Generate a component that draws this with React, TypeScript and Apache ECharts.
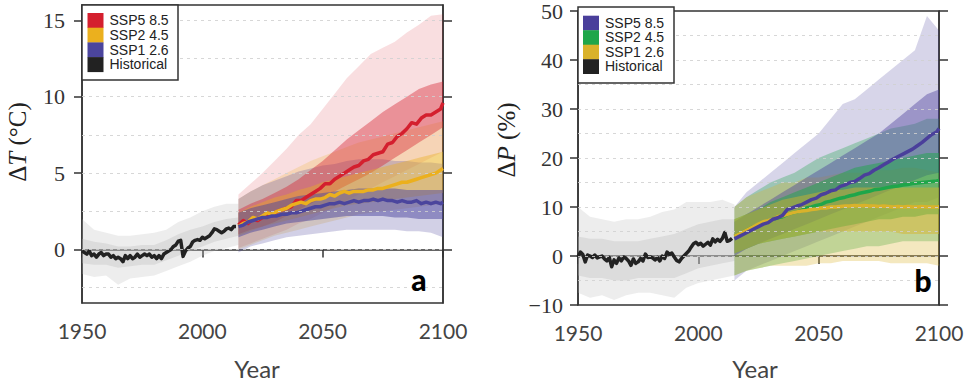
import React, { useEffect, useRef } from "react";
import * as echarts from "echarts";

// ---------- categories / years ----------
const histYears: number[] = Array.from({ length: 65 }, (_, i) => 1950 + i);
const projYears: number[] = [...Array.from({ length: 43 }, (_, i) => 2015 + 2 * i), 2100];
const bandYears: number[] = [2015, 2020, 2025, 2030, 2035, 2040, 2045, 2050, 2055, 2060, 2065, 2070, 2075, 2080, 2085, 2090, 2095, 2100];
const histBandYears: number[] = [1950, 1955, 1960, 1965, 1970, 1975, 1980, 1985, 1990, 1995, 2000, 2005, 2010, 2015];

// ---------- tick labels ----------
const xTicks = [1950, 2000, 2050, 2100];
const tTicks = [0, 5, 10, 15];
const tGrid = [-2.5, 0, 2.5, 5, 7.5, 10, 12.5, 15];
const pTicks = [-10, 0, 10, 20, 30, 40, 50];
const pGrid = [-5, 0, 5, 10, 15, 20, 25, 30, 35, 40, 45];

// ---------- panel a: temperature change (°C) ----------
const histT = [
  -0.1, -0.2, -0.3, -0.1, -0.4, -0.3, -0.5, -0.3, -0.2, -0.4, -0.3, -0.3, -0.5,
  -0.4, -0.6, -0.5, -0.6, -0.8, -0.4, -0.6, -0.4, -0.6, -0.5, -0.3, -0.5, -0.4,
  -0.3, -0.4, -0.3, -0.5, -0.4, -0.6, -0.4, -0.6, -0.3, -0.2, -0.1, 0.0, 0.2,
  0.3, 0.55, 0.6, -0.45, -0.1, 0.1, 0.2, 0.5, 0.6, 0.65, 0.6, 0.8, 0.7,
  0.8, 0.9, 1.1, 1.35, 1.3, 1.2, 1.1, 1.2, 1.35, 1.4, 1.3, 1.5, 1.5,
];
const ssp585T = [
  1.6, 1.9, 1.7, 2.0, 1.9, 2.1, 2.3, 2.2, 2.5, 2.6,
  2.7, 2.8, 3.2, 3.2, 3.4, 3.6, 3.8, 4.0, 4.3, 4.3,
  4.6, 4.8, 5.0, 5.2, 5.4, 5.5, 5.8, 5.9, 6.2, 6.3,
  6.4, 6.9, 7.0, 7.4, 7.6, 7.9, 8.3, 8.2, 8.6, 8.8,
  8.8, 9.0, 9.2, 9.6,
];
const ssp245T = [
  1.5, 1.7, 1.8, 2.1, 2.0, 2.2, 2.4, 2.3, 2.5, 2.6,
  2.7, 2.9, 3.0, 3.1, 3.0, 3.2, 3.3, 3.3, 3.4, 3.6,
  3.5, 3.7, 3.8, 3.7, 3.8, 3.8, 3.8, 3.9, 3.9, 4.0,
  4.0, 4.1, 4.2, 4.3, 4.4, 4.4, 4.5, 4.6, 4.7, 4.8,
  4.9, 5.0, 5.2, 5.3,
];
const ssp126T = [
  1.5, 1.6, 1.8, 1.9, 2.0, 2.1, 2.1, 2.2, 2.2, 2.3,
  2.3, 2.4, 2.4, 2.5, 2.6, 2.7, 2.8, 2.8, 2.9, 3.0,
  3.0, 3.1, 3.0, 3.1, 3.2, 3.1, 3.2, 3.2, 3.3, 3.2,
  3.3, 3.2, 3.2, 3.1, 3.2, 3.1, 3.1, 3.2, 3.0, 3.1,
  3.0, 3.1, 3.0, 3.1,
];
// ensemble envelopes (outer = full spread, inner = dense core)
const histTOutLo = [-1.6, -1.8, -1.7, -2.3, -1.9, -1.8, -1.7, -1.4, -1.1, -0.8, -0.4, -0.1, 0.1, 0.3];
const histTOutHi = [2.0, 1.3, 1.1, 0.9, 0.9, 1.0, 1.1, 1.3, 1.8, 2.1, 2.5, 2.8, 3.0, 3.0];
const histTInLo = [-0.9, -1.0, -1.0, -1.2, -1.1, -1.0, -1.0, -0.7, -0.4, -0.1, 0.2, 0.5, 0.7, 0.9];
const histTInHi = [0.7, 0.5, 0.4, 0.2, 0.2, 0.3, 0.3, 0.6, 1.0, 1.3, 1.5, 1.8, 2.0, 2.1];
const ssp585TOutLo = [0.1, 0.4, 0.7, 1.0, 1.3, 1.7, 2.0, 2.4, 2.8, 3.2, 3.6, 4.0, 4.4, 4.8, 5.2, 5.6, 6.0, 6.4];
const ssp585TOutHi = [3.6, 4.3, 5.0, 5.8, 6.6, 7.5, 8.2, 9.2, 10.2, 11.2, 12.0, 12.8, 13.2, 13.6, 14.2, 14.7, 15.3, 15.4];
const ssp585TInLo = [1.0, 1.3, 1.5, 1.8, 2.2, 2.6, 3.0, 3.4, 3.8, 4.2, 4.6, 5.0, 5.5, 6.0, 6.5, 7.0, 7.5, 8.0];
const ssp585TInHi = [2.6, 3.0, 3.3, 3.7, 4.1, 4.6, 5.2, 5.8, 6.5, 7.2, 7.8, 8.4, 9.0, 9.5, 10.0, 10.5, 10.8, 11.0];
const ssp245TOutLo = [0.0, 0.3, 0.6, 0.9, 1.1, 1.3, 1.5, 1.7, 1.9, 2.1, 2.3, 2.4, 2.5, 2.6, 2.7, 2.8, 2.9, 3.0];
const ssp245TOutHi = [3.3, 3.8, 4.2, 4.6, 5.0, 5.4, 5.8, 6.1, 6.4, 6.7, 7.0, 7.2, 7.4, 7.6, 7.8, 8.0, 8.2, 8.4];
const ssp245TInLo = [0.9, 1.2, 1.5, 1.7, 1.9, 2.1, 2.3, 2.5, 2.7, 2.9, 3.0, 3.1, 3.2, 3.3, 3.4, 3.5, 3.6, 3.7];
const ssp245TInHi = [2.4, 2.8, 3.1, 3.4, 3.6, 3.9, 4.1, 4.4, 4.6, 4.8, 5.0, 5.2, 5.4, 5.6, 5.8, 6.0, 6.2, 6.4];
const ssp126TOutLo = [-0.2, 0.2, 0.4, 0.6, 0.8, 0.9, 1.0, 1.1, 1.2, 1.3, 1.3, 1.3, 1.3, 1.3, 1.2, 1.2, 1.1, 0.8];
const ssp126TOutHi = [3.3, 3.8, 4.2, 4.5, 4.8, 5.1, 5.3, 5.5, 5.6, 5.8, 5.9, 5.9, 5.9, 5.8, 5.8, 5.7, 5.7, 5.6];
const ssp126TInLo = [0.8, 1.1, 1.3, 1.5, 1.7, 1.8, 1.9, 2.0, 2.1, 2.2, 2.2, 2.2, 2.2, 2.1, 2.1, 2.0, 2.0, 2.0];
const ssp126TInHi = [2.4, 2.7, 2.9, 3.1, 3.3, 3.5, 3.6, 3.7, 3.8, 3.9, 4.0, 4.0, 4.0, 4.0, 3.9, 3.9, 3.9, 3.9];

// ---------- panel b: precipitation change (%) ----------
const histP = [
  -0.2, 0.8, 0.3, -1.2, 0.2, 0.0, -0.3, 0.2, -0.4, -0.2, 0.0, -0.6, -1.0,
  -0.3, -2.2, -0.8, -1.5, -0.4, -1.0, -0.2, -0.5, -1.0, -1.9, -0.6, -1.5, -1.2,
  -0.5, -1.0, 0.4, -0.3, -0.2, -0.4, -0.8, -0.3, -1.0, 0.0, -0.5, 0.8, 0.3,
  0.6, -0.2, -0.9, -1.2, -0.5, 0.0, 0.5, 1.0, 1.8, 2.5, 2.8, 2.3, 2.6,
  2.0, 2.4, 2.8, 2.2, 3.5, 2.9, 3.4, 3.0, 3.6, 4.8, 3.0, 3.2, 3.6,
];
const ssp585P = [
  3.5, 4.0, 4.5, 5.0, 5.5, 6.0, 6.5, 6.8, 7.5, 7.8,
  8.3, 9.5, 9.8, 10.2, 10.5, 11.0, 11.5, 11.8, 12.5, 12.8,
  13.3, 13.5, 14.2, 14.5, 15.0, 15.2, 15.8, 16.5, 16.8, 17.5,
  18.0, 18.6, 19.2, 19.8, 20.3, 20.8, 21.3, 21.8, 22.5, 23.2,
  24.0, 24.8, 25.3, 26.0,
];
const ssp245P = [
  4.0, 4.5, 5.0, 5.5, 6.0, 6.3, 6.8, 7.0, 7.5, 7.8,
  8.0, 8.5, 8.8, 9.0, 9.3, 9.8, 10.0, 10.3, 10.5, 11.0,
  11.2, 11.5, 11.8, 12.0, 12.3, 12.5, 12.8, 13.0, 13.2, 13.5,
  13.6, 13.8, 14.0, 14.2, 14.3, 14.5, 14.6, 14.8, 14.9, 15.0,
  15.1, 15.2, 15.3, 15.4,
];
const ssp126P = [
  4.0, 4.5, 5.0, 5.5, 6.0, 6.5, 7.0, 7.2, 7.5, 8.0,
  8.2, 8.5, 8.8, 9.0, 9.2, 9.3, 9.5, 9.6, 9.8, 9.8,
  10.0, 10.0, 10.1, 10.2, 10.2, 10.3, 10.2, 10.3, 10.2, 10.2,
  10.1, 10.2, 10.1, 10.0, 10.1, 10.0, 10.1, 10.0, 10.0, 10.1,
  10.0, 10.0, 10.0, 10.0,
];
const histPOutLo = [-7.5, -8.5, -8.0, -9.0, -8.0, -7.5, -7.5, -8.0, -8.5, -6.5, -5.5, -5.0, -4.5, -4.0];
const histPOutHi = [10.0, 8.0, 7.5, 7.0, 7.5, 7.5, 8.0, 9.0, 9.5, 11.0, 11.0, 11.0, 11.5, 10.5];
const histPInLo = [-4.0, -4.5, -4.5, -5.0, -5.0, -4.5, -4.5, -4.5, -4.5, -3.5, -2.5, -2.0, -1.5, -1.0];
const histPInHi = [4.0, 3.5, 3.5, 3.0, 3.0, 3.0, 3.5, 4.0, 4.5, 5.5, 6.5, 7.0, 7.5, 7.5];
const ssp585POutLo = [-5, -3, -2, -1, 0, 1, 2, 3, 4, 5, 6, 7, 8, 9, 10, 11, 11, 12];
const ssp585POutHi = [10, 13, 15, 17, 19, 21, 23, 25, 28, 31, 32, 34, 36, 38, 40, 42, 49, 46];
const ssp585PInLo = [0, 1.5, 2.5, 3.5, 4.5, 5.5, 6.5, 7.5, 8.5, 9.5, 10.5, 11.5, 12.5, 13.5, 14.5, 15.5, 16.5, 17];
const ssp585PInHi = [7, 8.5, 10, 11.5, 13, 14.5, 16, 17.5, 19, 20.5, 22, 23.5, 25, 27, 29, 31, 33, 34];
const ssp245POutLo = [-4, -3, -2.5, -2, -1.5, -1, -0.5, 0, 0.5, 1, 1.5, 2, 2, 2.5, 3, 3, 3, 3];
const ssp245POutHi = [10, 12, 13.5, 15, 16, 17, 18.5, 20, 21, 22, 23, 24, 25, 26, 26.5, 27, 28, 28];
const ssp245PInLo = [0.5, 1.5, 2.5, 3, 3.5, 4, 4.5, 5, 5.5, 6, 6.5, 7, 7.5, 7.5, 8, 8, 8.5, 8.5];
const ssp245PInHi = [7.5, 8.5, 9.5, 11, 12, 13, 14, 15, 16, 17, 18, 18.5, 19, 19.5, 20, 20.5, 21, 21];
const ssp126POutLo = [-4, -3, -2.5, -2, -2, -2, -2, -1.5, -1.5, -1, -1, -1, -1, -1.5, -1.5, -1.5, -1.5, -2];
const ssp126POutHi = [10, 12, 13, 14, 15, 15, 16, 16, 16.5, 17, 17, 17, 17.5, 17.5, 18, 18, 17.5, 17];
const ssp126PInLo = [0.5, 1.5, 2.5, 3, 3.5, 4, 4.5, 5, 5, 5, 5, 5, 5, 5, 4.5, 4.5, 4.5, 4.5];
const ssp126PInHi = [7.5, 8.5, 9.5, 10.5, 11.5, 12, 12.5, 13, 13.5, 13.5, 14, 14, 14, 14, 14, 14, 14, 14];

// ---------- legend ----------
const legendA = ["SSP5 8.5", "SSP2 4.5", "SSP1 2.6", "Historical"];
const legendB = ["SSP5 8.5", "SSP2 4.5", "SSP1 2.6", "Historical"];

// ---------- styles ----------
const RED = "#d41f2e";
const ORANGE = "#ebb01e";
const BLUE = "#4b459d";
const PURPLE = "#4a3f9b";
const GREEN = "#1fa64a";
const YELLOW = "#d9b22b";
const BLACK = "#222222";
const GRAY = "#b8b8b8";
const colorsA = [RED, ORANGE, BLUE, BLACK];
const colorsB = [PURPLE, GREEN, YELLOW, BLACK];

function rgba(hex: string, a: number) {
  const n = parseInt(hex.slice(1), 16);
  return `rgba(${(n >> 16) & 255},${(n >> 8) & 255},${n & 255},${a})`;
}

function band(xs: number[], lo: number[], hi: number[], color: string, alpha: number, g: number) {
  return {
    type: "custom",
    xAxisIndex: g,
    yAxisIndex: g * 2,
    silent: true,
    data: xs.map((x, i) => [x, lo[i], hi[i]]),
    encode: { x: 0, y: [1, 2] },
    renderItem: (params: any, api: any) => {
      if (params.dataIndex !== 0) return null;
      const top = xs.map((x, i) => api.coord([x, hi[i]]));
      const bot = xs.map((x, i) => api.coord([x, lo[i]])).reverse();
      return {
        type: "polygon",
        shape: { points: top.concat(bot) },
        style: { fill: rgba(color, alpha), stroke: null },
      };
    },
  };
}

function meanLine(xs: number[], ys: number[], color: string, g: number, w = 3.5) {
  return {
    type: "line",
    xAxisIndex: g,
    yAxisIndex: g * 2,
    silent: true,
    symbol: "none",
    data: xs.map((x, i) => [x, ys[i]]),
    lineStyle: { color, width: w, join: "round" },
  };
}

function gridLines(vals: number[], g: number) {
  return {
    type: "line",
    xAxisIndex: g,
    yAxisIndex: g * 2,
    silent: true,
    data: [],
    z: 10,
    markLine: {
      silent: true,
      symbol: ["none", "none"],
      label: { show: false },
      lineStyle: { type: [3, 4], color: "rgba(208,208,208,0.85)", width: 1 },
      data: vals.map((v) => ({ yAxis: v })),
    },
  };
}

function legend(x: number, y: number, names: string[], colors: string[], w: number, h: number, sx: number, sy: number, step: number) {
  const els: any[] = [
    { type: "rect", shape: { x, y, width: w, height: h }, style: { fill: "#fff", stroke: "#333", lineWidth: 1.5 }, z: 100 },
  ];
  names.forEach((n, i) => {
    els.push({ type: "rect", shape: { x: sx, y: sy + i * step, width: 16, height: step + 0.3 }, style: { fill: colors[i] }, z: 101 });
    els.push({
      type: "text",
      x: sx + 22,
      y: sy + i * step + step / 2,
      style: { text: n, fontSize: 14, fontFamily: "Liberation Sans", fill: "#222", verticalAlign: "middle", align: "left" },
      z: 101,
    });
  });
  return els;
}

const serif = "Liberation Serif";
const sans = "Lato";

function xAxis(g: number) {
  return {
    type: "value",
    gridIndex: g,
    min: 1950,
    max: 2100,
    interval: 50,
    axisLine: { show: true, lineStyle: { color: "#333", width: 1.5 } },
    axisTick: { show: true, inside: false, length: 8, lineStyle: { color: "#333", width: 1.5 } },
    axisLabel: {
      show: true, margin: 17, fontSize: 21, fontFamily: sans, color: "#444",
      showMinLabel: true, showMaxLabel: true, formatter: (v: number) => String(v),
    },
    splitLine: { show: false },
  };
}

function yAxes(g: number, min: number, max: number, ticks: number[], margin: number) {
  const fmt = (v: number) => (v < 0 ? "\u2212" + Math.abs(v) : String(v));
  return [
    {
      type: "value",
      gridIndex: g,
      position: "left",
      min,
      max,
      axisLine: { show: true, lineStyle: { color: "#333", width: 1.5 } },
      axisTick: { show: true, length: 8, customValues: ticks, lineStyle: { color: "#333", width: 1.5 } },
      axisLabel: { show: true, customValues: ticks, margin, fontSize: 22, fontFamily: serif, color: "#333", formatter: fmt },
      splitLine: { show: false },
    },
    {
      type: "value",
      gridIndex: g,
      position: "right",
      min,
      max,
      axisLine: { show: true, lineStyle: { color: "#333", width: 1.5 } },
      axisTick: { show: true, length: 9, customValues: ticks, lineStyle: { color: "#333", width: 1.5 } },
      axisLabel: { show: false },
      splitLine: { show: false },
    },
  ];
}

export default function App() {
  const ref = useRef<HTMLDivElement>(null);
  useEffect(() => {
    document.body.style.margin = "0";
    if (!ref.current) return;
    const chart = echarts.init(ref.current, null, { renderer: "svg" });
    const series: any[] = [
      // panel a
      band(histBandYears, histTOutLo, histTOutHi, GRAY, 0.26, 0),
      band(histBandYears, histTInLo, histTInHi, GRAY, 0.32, 0),
      band(bandYears, ssp585TOutLo, ssp585TOutHi, RED, 0.15, 0),
      band(bandYears, ssp245TOutLo, ssp245TOutHi, ORANGE, 0.22, 0),
      band(bandYears, ssp126TOutLo, ssp126TOutHi, BLUE, 0.25, 0),
      band(bandYears, ssp585TInLo, ssp585TInHi, RED, 0.4, 0),
      band(bandYears, ssp245TInLo, ssp245TInHi, ORANGE, 0.4, 0),
      band(bandYears, ssp126TInLo, ssp126TInHi, BLUE, 0.5, 0),
      meanLine(histYears, histT, BLACK, 0),
      meanLine(projYears, ssp585T, RED, 0),
      meanLine(projYears, ssp245T, ORANGE, 0),
      meanLine(projYears, ssp126T, BLUE, 0),
      gridLines(tGrid, 0),
      // panel b
      band(histBandYears, histPOutLo, histPOutHi, GRAY, 0.26, 1),
      band(histBandYears, histPInLo, histPInHi, GRAY, 0.32, 1),
      band(bandYears, ssp585POutLo, ssp585POutHi, PURPLE, 0.22, 1),
      band(bandYears, ssp245POutLo, ssp245POutHi, GREEN, 0.32, 1),
      band(bandYears, ssp126POutLo, ssp126POutHi, YELLOW, 0.3, 1),
      band(bandYears, ssp585PInLo, ssp585PInHi, PURPLE, 0.42, 1),
      band(bandYears, ssp245PInLo, ssp245PInHi, GREEN, 0.5, 1),
      band(bandYears, ssp126PInLo, ssp126PInHi, YELLOW, 0.45, 1),
      meanLine(histYears, histP, BLACK, 1),
      meanLine(projYears, ssp245P, GREEN, 1),
      meanLine(projYears, ssp126P, YELLOW, 1),
      meanLine(projYears, ssp585P, PURPLE, 1),
      gridLines(pGrid, 1),
    ];
    const graphic: any[] = [
      ...legend(82, 5, legendA, colorsA, 96, 75, 87.5, 13, 14.7),
      ...legend(578, 7, legendB, colorsB, 96, 76, 583, 15.7, 14.5),
      {
        type: "text", x: 17, y: 142, rotation: Math.PI / 2,
        style: {
          text: "{n|\u0394}{i|T}{n| (\u00B0C)}", align: "center", verticalAlign: "middle",
          rich: { n: { fontSize: 25, fontFamily: serif, fill: "#222" }, i: { fontSize: 25, fontFamily: serif, fontStyle: "italic", fill: "#222" } },
        },
      },
      {
        type: "text", x: 506, y: 140, rotation: Math.PI / 2,
        style: {
          text: "{n|\u0394}{i|P}{n| (%)}", align: "center", verticalAlign: "middle",
          rich: { n: { fontSize: 25, fontFamily: serif, fill: "#222" }, i: { fontSize: 25, fontFamily: serif, fontStyle: "italic", fill: "#222" } },
        },
      },
      { type: "text", x: 257, y: 368, style: { text: "Year", fontSize: 24, fontFamily: sans, fill: "#444", align: "center", verticalAlign: "middle" } },
      { type: "text", x: 755, y: 368, style: { text: "Year", fontSize: 24, fontFamily: sans, fill: "#444", align: "center", verticalAlign: "middle" } },
      { type: "text", x: 419, y: 279, z: 50, style: { text: "a", fontSize: 30, fontWeight: 900, fontFamily: sans, fill: "#000", align: "center", verticalAlign: "middle" } },
      { type: "text", x: 923, y: 280, z: 50, style: { text: "b", fontSize: 30, fontWeight: 900, fontFamily: sans, fill: "#000", align: "center", verticalAlign: "middle" } },
    ];
    chart.setOption({
      animation: false,
      grid: [
        { left: 82, top: 5, width: 361, height: 298, show: true, borderColor: "#333", borderWidth: 1.5, backgroundColor: "transparent" },
        { left: 578, top: 7, width: 361, height: 298, show: true, borderColor: "#333", borderWidth: 1.5, backgroundColor: "transparent" },
      ],
      xAxis: [xAxis(0), xAxis(1)],
      yAxis: [...yAxes(0, -3.5, 16, tTicks, 17), ...yAxes(1, -10, 50, pTicks, 15)],
      series,
      graphic,
    });
    return () => chart.dispose();
  }, []);
  return <div ref={ref} style={{ width: 975, height: 387 }} />;
}
